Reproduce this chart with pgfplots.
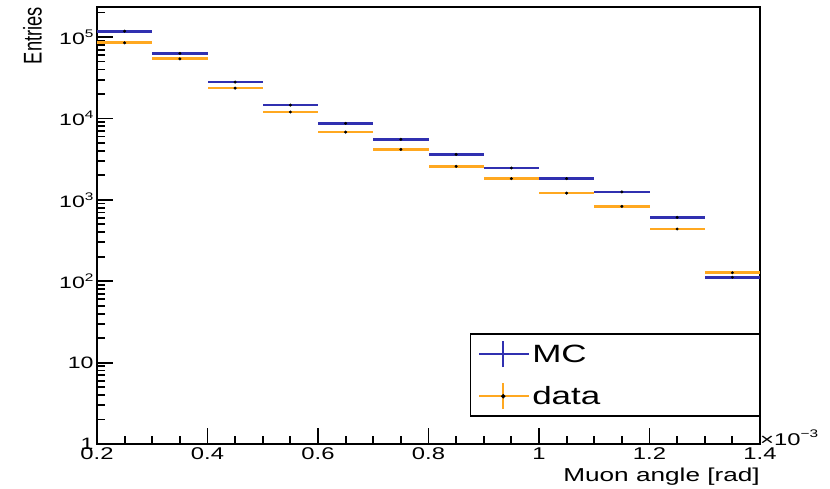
\documentclass[border=0pt]{standalone}
\usepackage{fontspec}
\setmainfont{Liberation Sans}[FakeStretch=1.4]
\newfontfamily\plainsans{Liberation Sans}
\usepackage{graphicx}
\usepackage{pgfplots}
\pgfplotsset{compat=1.18}
\definecolor{mcblue}{RGB}{48,48,176}
\definecolor{dataorange}{RGB}{255,168,32}
\newcommand{\sups}[1]{\raisebox{0.42em}{\fontsize{11}{11}\selectfont #1}}

\pgfplotstableread{
x y
0.25 118000
0.35 63000
0.45 28000
0.55 14600
0.65 8700
0.75 5540
0.85 3620
0.95 2460
1.05 1820
1.15 1250
1.25 610
1.35 112
}\mctable

\pgfplotstableread{
x y
0.25 85000
0.35 54000
0.45 23600
0.55 12000
0.65 6800
0.75 4170
0.85 2580
0.95 1820
1.05 1210
1.15 831
1.25 438
1.35 127
}\datatable

\begin{document}
\begin{tikzpicture}
\useasboundingbox (-97pt,-44pt) rectangle (733pt,444pt);
\begin{axis}[
  name=ax,
  at={(0pt,0pt)}, anchor=south west,
  scale only axis, width=663pt, height=437pt,
  ymode=log,
  xmin=0.2, xmax=1.4, ymin=1, ymax=2.34e5,
  xtick={0.2,0.4,0.6,0.8,1,1.2,1.4},
  xticklabels={0.2,0.4,0.6,0.8,1,1.2,1.4},
  minor x tick num=3,
  ytick={1,10,100,1000,10000,100000},
  yticklabels={1,10,10\sups{2},10\sups{3},10\sups{4},10\sups{5}},
  minor ytick={2,3,4,5,6,7,8,9,20,30,40,50,60,70,80,90,200,300,400,500,600,700,800,900,2e3,3e3,4e3,5e3,6e3,7e3,8e3,9e3,2e4,3e4,4e4,5e4,6e4,7e4,8e4,9e4,2e5},
  tick pos=left,
  tick align=inside,
  major tick length=16pt,
  minor tick length=8pt,
  tick style={line width=1.8pt, black},
  axis line style={line width=2pt},
  /pgf/number format/assume math mode=true,
  xticklabel style={font=\fontsize{17}{17}\selectfont},
  yticklabel style={font=\fontsize{16.5}{17}\selectfont},
  xlabel={Muon angle [rad]},
  xlabel style={at={(rel axis cs:1,0)}, anchor=base east, yshift=-37pt, inner sep=0pt, font=\fontsize{18.7}{20}\selectfont},
  ylabel={\scalebox{1}[1.4]{\plainsans\fontsize{18.3}{20}\selectfont Entries}},
  ylabel style={at={(axis description cs:-0.083,1)}, anchor=south east, inner sep=0pt},
  legend style={at={(axis description cs:1,0.0618)}, anchor=south east, draw=black, line width=1.5pt, fill=white,
    font=\fontsize{25}{30}\selectfont, inner xsep=8pt, inner ysep=6pt, row sep=14pt},
  legend cell align=left,
]
\addplot[only marks, mark=*, mark size=1.3pt, black,
  legend image code/.code={
    \draw[mcblue, line width=2pt] (0pt,0pt) -- (50pt,0pt);
    \draw[mcblue, line width=2pt] (24pt,-13pt) -- (24pt,13pt);},
  error bars/.cd, x dir=both, x fixed=0.05, error mark=none,
  error bar style={mcblue, line width=2.7pt}]
  table[x=x, y=y] {\mctable};
\addlegendentry{\makebox[217pt][l]{MC}}
\addplot[only marks, mark=*, mark size=1.3pt, black,
  legend image code/.code={
    \draw[dataorange, line width=2pt] (0pt,0pt) -- (50pt,0pt);
    \draw[dataorange, line width=2pt] (24pt,-13pt) -- (24pt,13pt);
    \fill[black] (24pt,0pt) circle (1.3pt);},
  error bars/.cd, x dir=both, x fixed=0.05, error mark=none,
  error bar style={dataorange, line width=2.7pt}]
  table[x=x, y=y] {\datatable};
\addlegendentry{\makebox[217pt][l]{data}}
\end{axis}
\node[anchor=base west, inner sep=0pt, font=\fontsize{17}{17}\selectfont] at ([yshift=-1pt]ax.south east) {×10\sups{−3}};
\end{tikzpicture}
\end{document}
